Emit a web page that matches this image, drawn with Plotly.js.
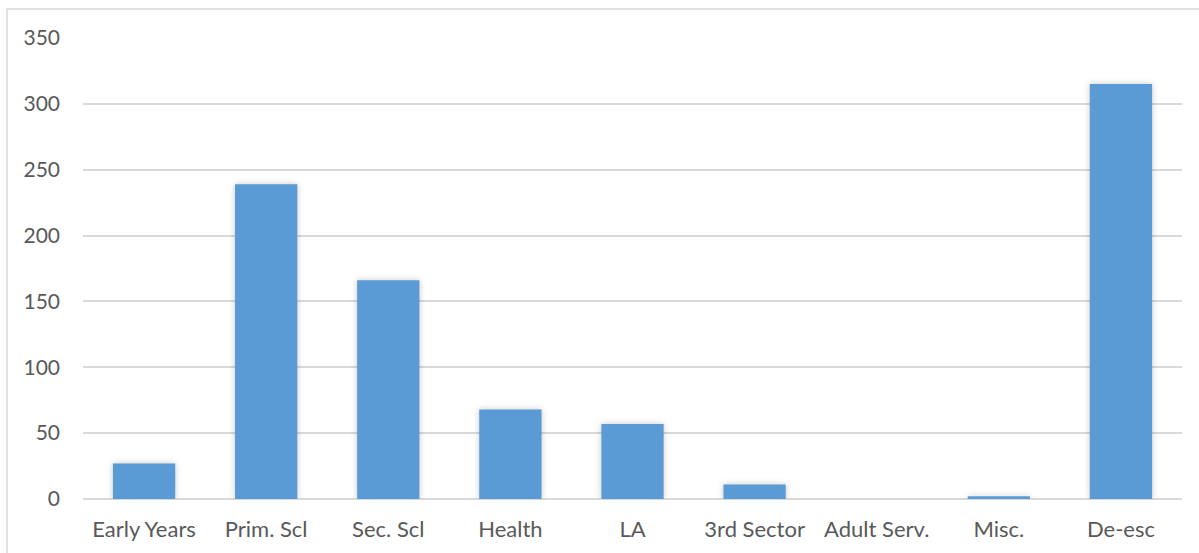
<!DOCTYPE html>
<html>
<head>
<meta charset="utf-8">
<script src="https://cdn.plot.ly/plotly-3.0.1.min.js"></script>
<style>
  html, body { margin: 0; padding: 0; background: #fff; }
  #chart { width: 1199px; height: 553px; }
  .bars .point path { filter: drop-shadow(0 0 3px rgba(0,0,0,0.22)); }
</style>
</head>
<body>
<div id="chart"></div>
<script>
const categories = ["Early Years", "Prim. Scl", "Sec. Scl", "Health", "LA", "3rd Sector", "Adult Serv.", "Misc.", "De-esc"];
const values = [27, 239, 166, 68, 57, 11, 0, 2, 315];
const yTickValues = [0, 50, 100, 150, 200, 250, 300, 350];

const L = 83, R = 17, T = 38, B = 54, W = 1199, H = 553;
const pw = W - L - R, ph = H - T - B;
function px2paperX(px) { return (px - L) / pw; }
function px2paperY(py) { return (H - B - py) / ph; }

const trace = {
  type: 'bar',
  x: categories,
  y: values,
  marker: { color: '#5B9BD5', line: { width: 0 } },
  hoverinfo: 'x+y'
};

const layout = {
  width: W, height: H,
  margin: { l: L, r: R, t: T, b: B, pad: 0 },
  paper_bgcolor: '#ffffff',
  plot_bgcolor: '#ffffff',
  bargap: 0.49,
  showlegend: false,
  font: { family: 'Lato, "Open Sans", sans-serif', size: 20, color: '#595959' },
  xaxis: {
    type: 'category',
    showgrid: false,
    showline: false,
    ticks: '',
    ticklabelstandoff: 15,
    tickfont: { size: 22, color: '#595959' }
  },
  yaxis: {
    range: [0, 350],
    tickvals: yTickValues,
    ticktext: yTickValues.map(String),
    showgrid: true,
    gridcolor: '#d9d9d9',
    gridwidth: 2,
    zeroline: true,
    zerolinecolor: '#d9d9d9',
    zerolinewidth: 2,
    showline: false,
    ticks: '',
    ticklabelstandoff: 22,
    tickfont: { size: 21, color: '#595959' }
  },
  shapes: [{
    type: 'rect', xref: 'paper', yref: 'paper',
    x0: px2paperX(7), x1: px2paperX(1205),
    y0: px2paperY(565), y1: px2paperY(9),
    line: { color: '#d9d9d9', width: 1.5 },
    fillcolor: 'rgba(0,0,0,0)',
    layer: 'below'
  }]
};

Plotly.newPlot('chart', [trace], layout, { displayModeBar: false, staticPlot: true });
</script>
</body>
</html>
